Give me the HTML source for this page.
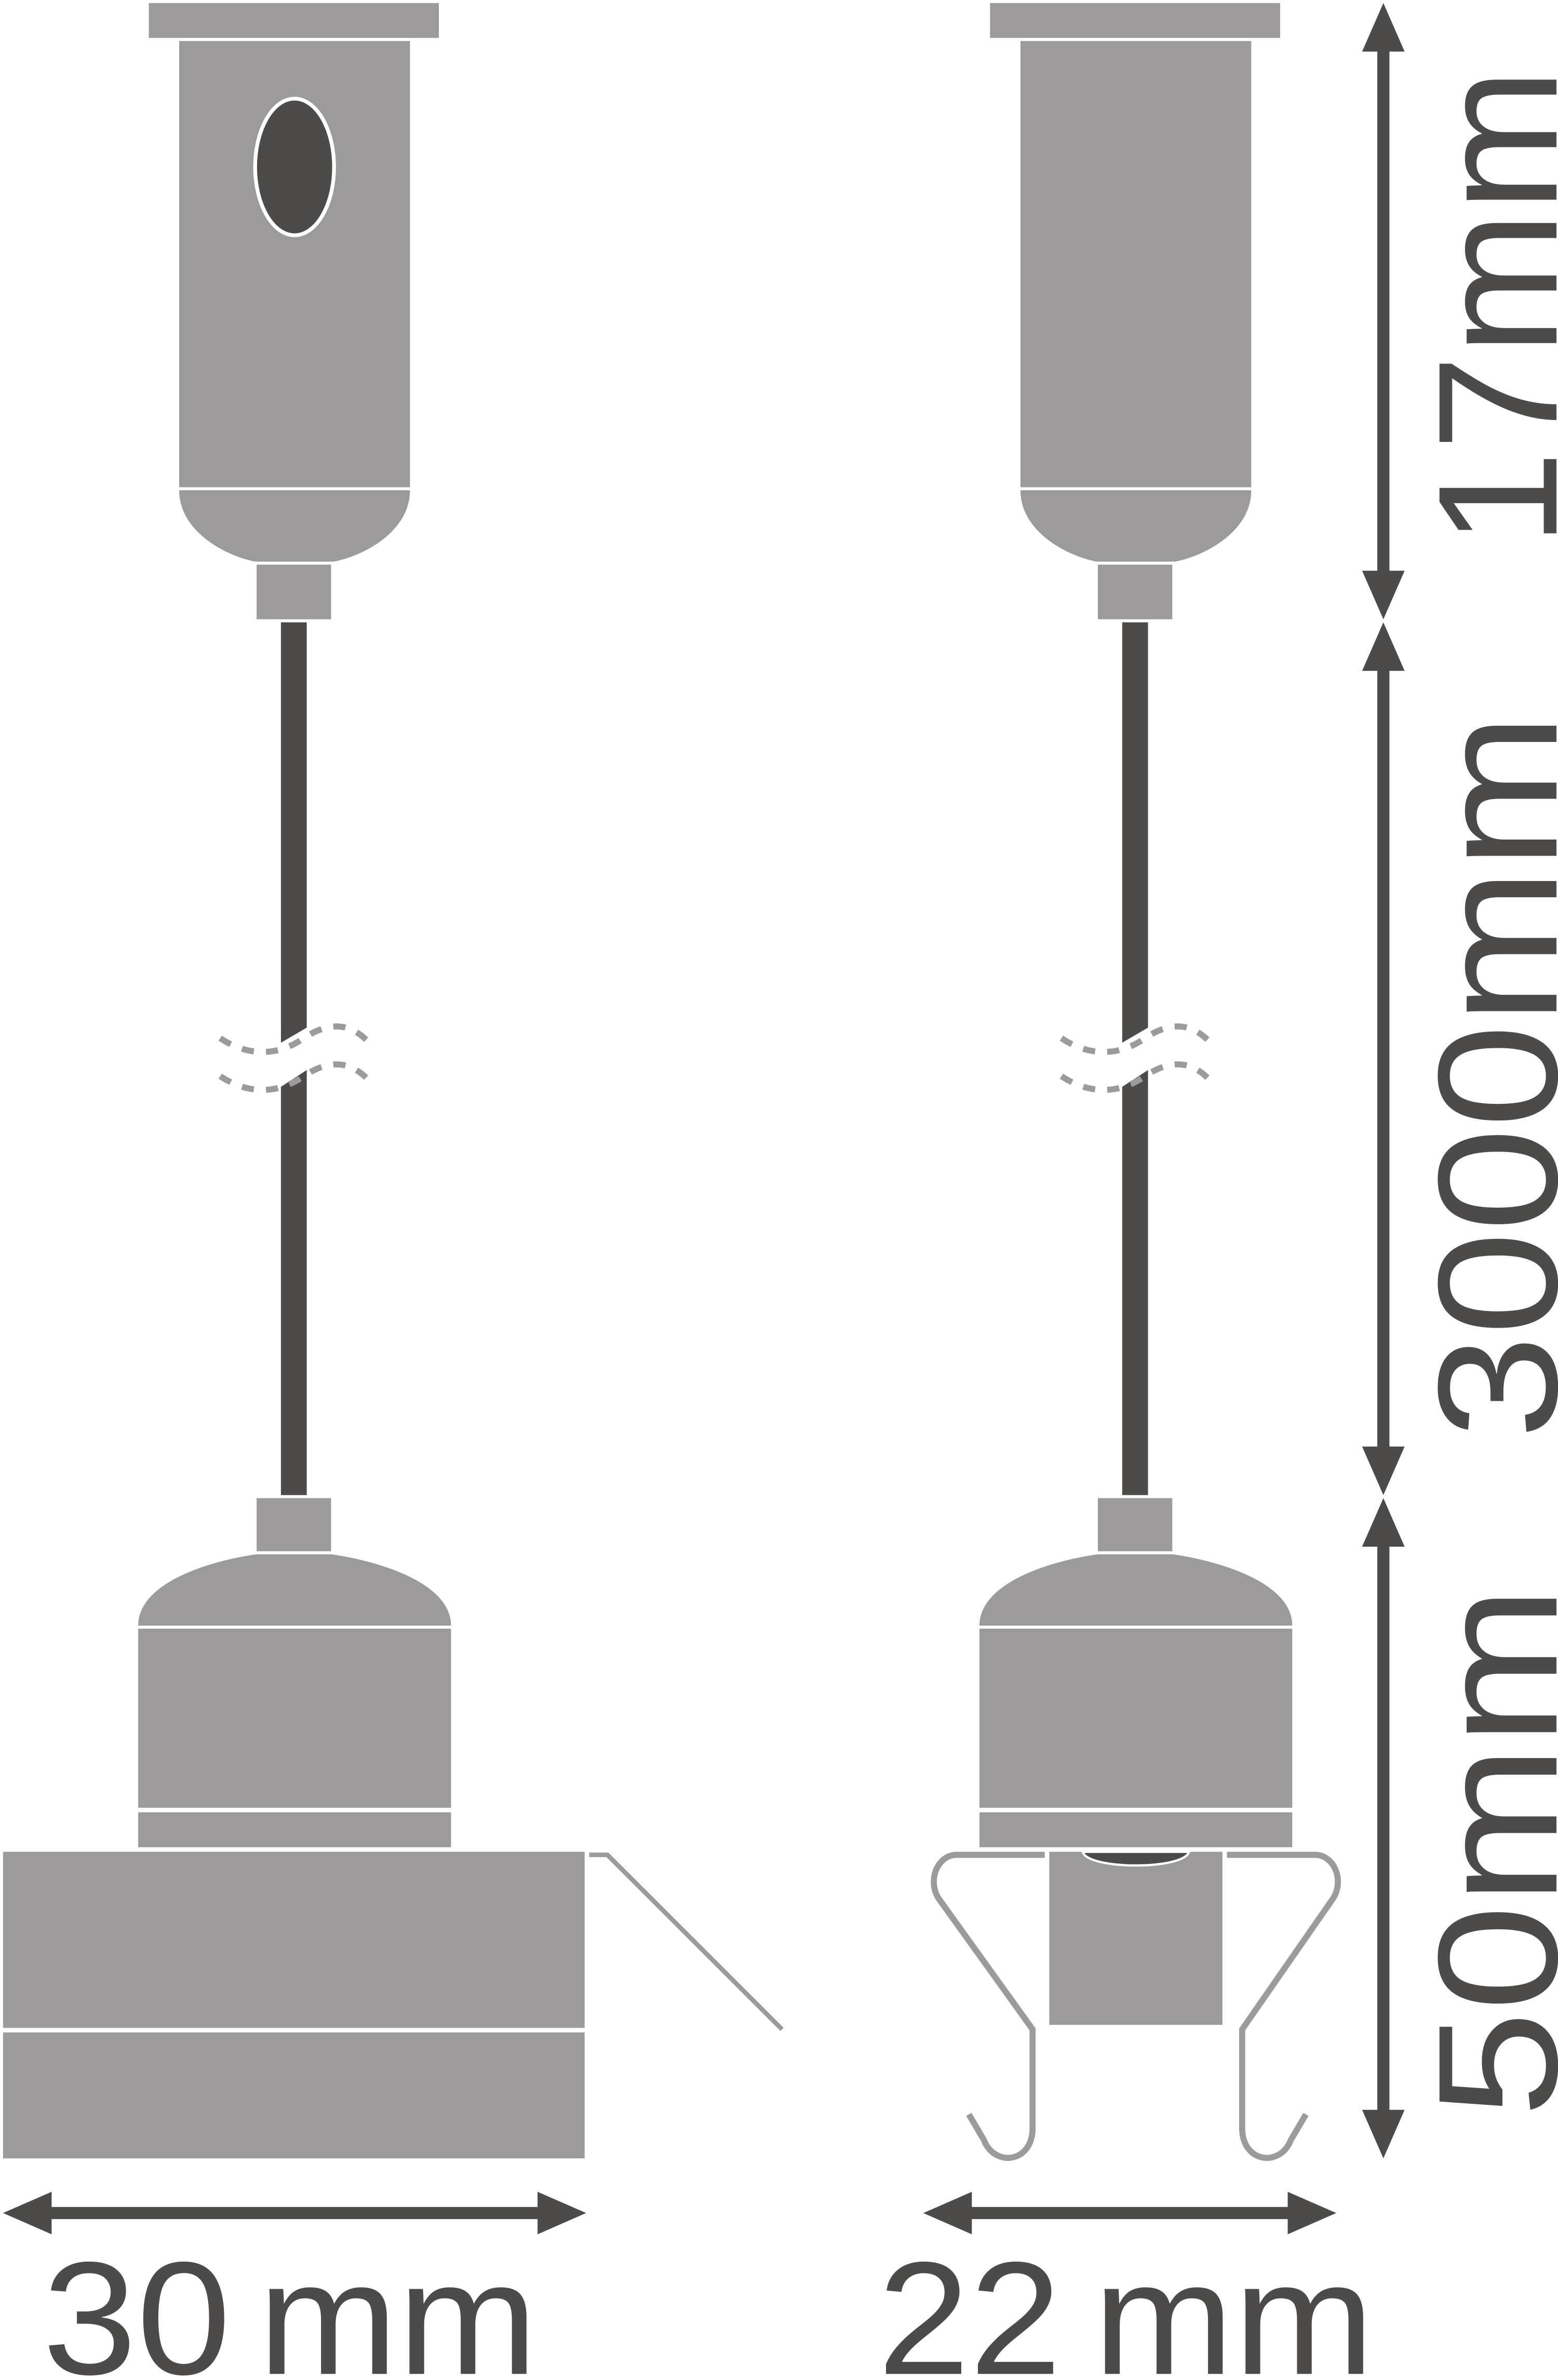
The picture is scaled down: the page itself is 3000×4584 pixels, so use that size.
<!DOCTYPE html>
<html><head><style>html,body{margin:0;padding:0;background:#fff;}svg{display:block;}</style></head>
<body>
<svg xmlns="http://www.w3.org/2000/svg" width="3000" height="4584" viewBox="0 0 1026 1568" preserveAspectRatio="none">
<defs>
<g id="top">
  <rect x="98" y="2" width="191" height="23" fill="#9c9a9b"/>
  <rect x="118" y="27" width="152" height="294" fill="#9c9a9b"/>
  <path d="M118,323 H270 C270,350 240,366 220,370 H168 C148,366 118,350 118,323 Z" fill="#9c9a9b"/>
  <rect x="169" y="372" width="49" height="36" fill="#9c9a9b"/>
  <path d="M185,410 H202 V677 L185,687 Z" fill="#4d4b4a"/>
  <path d="M185,716 L202,705 V985 H185 Z" fill="#4d4b4a"/>
  <path d="M145,684 C160,694 180,698 200,684 C215,674 230,672 244,688" fill="none" stroke="#9c9a9b" stroke-width="4" stroke-dasharray="8,8"/>
  <path d="M145,709 C160,719 180,723 200,709 C215,699 230,697 244,713" fill="none" stroke="#9c9a9b" stroke-width="4" stroke-dasharray="8,8"/>
  <rect x="169" y="987" width="49" height="35" fill="#9c9a9b"/>
  <path d="M91,1071 C91,1042 140,1028 169,1024 H218 C247,1028 297,1042 297,1071 Z" fill="#9c9a9b"/>
  <rect x="91" y="1073" width="206" height="118" fill="#9c9a9b"/>
  <rect x="91" y="1194" width="206" height="23" fill="#9c9a9b"/>
</g>
</defs>
<use href="#top"/>
<ellipse cx="194" cy="110" rx="26" ry="45" fill="#4d4b4a" stroke="#fff" stroke-width="2.5"/>
<rect x="2" y="1220" width="383" height="116" fill="#9c9a9b"/>
<rect x="2" y="1339" width="383" height="83" fill="#9c9a9b"/>
<path d="M388,1222 H400 L515,1337" fill="none" stroke="#9c9a9b" stroke-width="3"/>

<g transform="translate(554,0)"><use href="#top"/></g>
<rect x="691" y="1220" width="114" height="114" fill="#9c9a9b"/>
<path d="M713,1220 H783 C780,1232 716,1232 713,1220 Z" fill="#4d4b4a" stroke="#fff" stroke-width="1.5"/>
<path d="M688,1222 H630 C617,1222 610,1240 619,1252 L680,1337 V1402 C680,1425 655,1428 648,1410 L638,1393" fill="none" stroke="#9c9a9b" stroke-width="4"/>
<path d="M808,1222 H866 C879,1222 886,1240 877,1252 L818,1337 V1402 C818,1425 843,1428 850,1410 L860,1393" fill="none" stroke="#9c9a9b" stroke-width="4"/>

<g fill="#4d4b4a">
  <rect x="907" y="30" width="8" height="350"/>
  <rect x="907" y="438" width="8" height="520"/>
  <rect x="907" y="1015" width="8" height="380"/>
  <path d="M897,34 L911,2 L925,34 Z"/>
  <path d="M897,376 L911,408 L925,376 Z"/>
  <path d="M897,442 L911,410 L925,442 Z"/>
  <path d="M897,953 L911,985 L925,953 Z"/>
  <path d="M897,1019 L911,987 L925,1019 Z"/>
  <path d="M897,1390 L911,1422 L925,1390 Z"/>
  <rect x="30" y="1454" width="328" height="8"/>
  <path d="M34,1444 L2,1458 L34,1472 Z"/>
  <path d="M354,1444 L386,1458 L354,1472 Z"/>
  <rect x="636" y="1454" width="216" height="8"/>
  <path d="M640,1444 L608,1458 L640,1472 Z"/>
  <path d="M848,1444 L880,1458 L848,1472 Z"/>
</g>
<g fill="#4d4b4a" font-family="Liberation Sans, sans-serif" font-size="106">
  <text x="28" y="1564" textLength="124" lengthAdjust="spacingAndGlyphs">30</text>
  <text x="170" y="1564" textLength="184" lengthAdjust="spacingAndGlyphs">mm</text>
  <text x="578" y="1564" textLength="121" lengthAdjust="spacingAndGlyphs">22</text>
  <text x="720" y="1564" textLength="185" lengthAdjust="spacingAndGlyphs">mm</text>
</g>
<g fill="#4d4b4a" font-family="Liberation Sans, sans-serif" font-size="112">
  <text transform="translate(1025,360) rotate(-90)" textLength="315" lengthAdjust="spacingAndGlyphs">17mm</text>
  <text transform="translate(1025,948) rotate(-90)" textLength="478" lengthAdjust="spacingAndGlyphs">3000mm</text>
  <text transform="translate(1025,1395) rotate(-90)" textLength="350" lengthAdjust="spacingAndGlyphs">50mm</text>
</g>
</svg>
</body></html>
